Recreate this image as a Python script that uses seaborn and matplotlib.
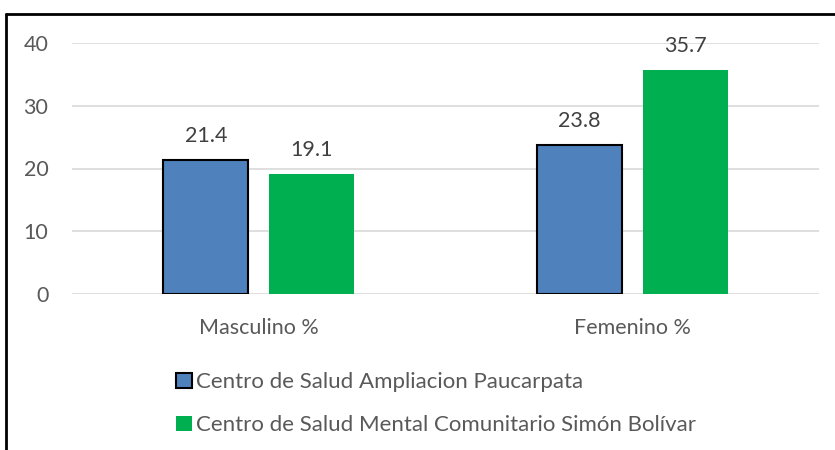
import matplotlib.pyplot as plt
import seaborn as sns
import numpy as np
import pandas as pd
from matplotlib.patches import Patch
from matplotlib.lines import Line2D

# Datos
categorias = ['Masculino %', 'Femenino %']
centros = ['Centro de Salud Ampliacion Paucarpata',
           'Centro de Salud Mental Comunitario Simón Bolívar']
paucarpata = [21.4, 23.8]
simon_bolivar = [19.1, 35.7]
colores = ['#4F81BD', '#00B050']

df = pd.DataFrame({
    'categoria': categorias * 2,
    'centro': [centros[0]] * 2 + [centros[1]] * 2,
    'valor': paucarpata + simon_bolivar,
})

sns.set_style('white')
plt.rcParams['font.family'] = ['Lato', 'DejaVu Sans']
fs = 15.5

fig = plt.figure(figsize=(8.35, 4.5), dpi=100)
ax = fig.add_axes([72 / 835, 1 - 294 / 450, (819 - 72) / 835, (294 - 43) / 450])

sns.barplot(data=df, x='categoria', y='valor', hue='centro', palette=colores,
            width=0.567, gap=0.2, saturation=1, ax=ax, legend=False, errorbar=None)

# borde negro solo en las barras azules
for i, bar in enumerate(ax.patches):
    if i < 2:
        bar.set_edgecolor('black')
        bar.set_linewidth(1.5)
    else:
        bar.set_edgecolor('none')

# etiquetas de datos
for cont in ax.containers:
    ax.bar_label(cont, fmt='%.1f', padding=10, fontsize=fs, color='#404040')

ax.set_ylim(0, 40)
ax.set_xlim(-0.5, 1.5)
ax.set_yticks([0, 10, 20, 30, 40])
ax.yaxis.grid(True, color='#D9D9D9', linewidth=1.2)
ax.set_axisbelow(True)
for s in ax.spines.values():
    s.set_visible(False)
ax.set_xlabel('')
ax.set_ylabel('')
ax.tick_params(axis='both', length=0, labelsize=fs, colors='#595959')
ax.tick_params(axis='x', pad=17)
ax.tick_params(axis='y', pad=17)

# leyenda
handles = [Patch(facecolor=colores[0], edgecolor='black', linewidth=1.5),
           Patch(facecolor=colores[1], edgecolor='none')]
fig.legend(handles, centros, loc='upper left', bbox_to_anchor=(165 / 835, 1 - 361 / 450),
           frameon=False, fontsize=16, labelcolor='#595959', handlelength=0.7,
           handleheight=0.7, handletextpad=0.2, labelspacing=1.05, borderpad=0)

# marco
fig.add_artist(Line2D([6 / 835, 6 / 835], [0, 1 - 14 / 450], color='black', linewidth=2))
fig.add_artist(Line2D([6 / 835, 1], [1 - 14 / 450, 1 - 14 / 450], color='black', linewidth=2))

fig.savefig('out.png', dpi=100)
